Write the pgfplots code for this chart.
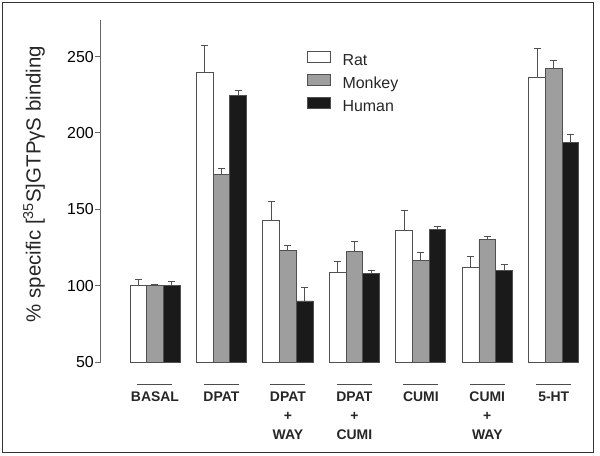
\documentclass[border=0pt]{standalone}
\usepackage{pgfplots}
\pgfplotsset{compat=1.18}
\usepackage{pgfplotstable}
\usepackage{fontspec}
\setmainfont{Liberation Sans}
\definecolor{monk}{HTML}{9E9E9E}
\definecolor{hum}{HTML}{1A1A1A}
\definecolor{edge}{HTML}{505050}
\pgfplotstableread{
x rat rerr monkey merr human herr
0 100 4 100 1 100 2.5
1 239.5 18 173 3.5 224.5 3.5
2 143 12 123 3.5 90 9
3 108.5 7.5 122.5 6.5 108 2
4 136 13 116.5 5.5 137 2
5 112 7 130.5 2 110 4
6 236.5 19 242.5 5 194 5
}\datatable
\begin{document}
\begin{tikzpicture}
\path (-101bp,-94bp) rectangle (499bp,362bp);
\draw[color=black!80, line width=1bp] (-98bp,-90bp) rectangle (492bp,359bp);
\begin{axis}[
 scale only axis, width=486bp, height=342bp,
 xmin=-0.812, xmax=6.5, ymin=50, ymax=274,
 axis y line*=left, axis x line*=bottom,
 x axis line style={draw=none},
 y axis line style={-, draw=black!60, line width=1bp},
 xtick style={draw=none},
 ytick={50,100,150,200,250},
 ytick style={draw=black!60, line width=1bp},
 tick align=outside, major tick length=6bp,
 /pgf/number format/assume math mode=true,
 yticklabel style={font=\fontsize{16}{19}\selectfont, inner sep=1bp},
 xtick={0,1,2,3,4,5,6},
 xticklabels={
  {\textcolor{black!70}{\rule{35bp}{0.8bp}}\\[-2bp]BASAL},
  {\textcolor{black!70}{\rule{35bp}{0.8bp}}\\[-2bp]DPAT},
  {\textcolor{black!70}{\rule{35bp}{0.8bp}}\\[-2bp]DPAT\\+\\WAY},
  {\textcolor{black!70}{\rule{35bp}{0.8bp}}\\[-2bp]DPAT\\+\\CUMI},
  {\textcolor{black!70}{\rule{35bp}{0.8bp}}\\[-2bp]CUMI},
  {\textcolor{black!70}{\rule{35bp}{0.8bp}}\\[-2bp]CUMI\\+\\WAY},
  {\textcolor{black!70}{\rule{35bp}{0.8bp}}\\[-2bp]5-HT}},
 xticklabel style={font=\fontsize{14}{19}\selectfont\bfseries, align=center, anchor=north, inner sep=0pt, yshift=-16bp, text=black!85},
 ylabel={\% specific [\textsuperscript{35}S]GTPγS binding},
 ylabel style={at={(axis description cs:-0.138,0.52)}, anchor=center, font=\fontsize{20.5}{24}\selectfont, text=black!85},
 ybar=0pt, bar width=16.7bp,
 every axis plot/.append style={draw=edge, line width=0.8bp},
 error bars/y dir=plus, error bars/y explicit,
 error bars/error bar style={draw=edge, line width=1bp},
 error bars/error mark options={rotate=90, mark size=3.5bp, line width=1bp, draw=edge},
 legend style={draw=none, fill=none, at={(axis cs:2.28,254)}, anchor=north west,
   inner sep=0pt, row sep=5bp, font=\fontsize{16}{19}\selectfont,
   nodes={inner sep=0pt, text height=12bp, text depth=3bp, text=black!85}},
 /tikz/every odd column/.append style={column sep=12bp},
 legend cell align=left,
 legend image code/.code={\draw[#1, draw=edge, line width=0.8bp] (0bp,-1.5bp) rectangle (23bp,10bp);},
]
\addplot[fill=white] table[x=x, y=rat, y error=rerr] {\datatable};
\addplot[fill=monk] table[x=x, y=monkey, y error=merr] {\datatable};
\addplot[fill=hum] table[x=x, y=human, y error=herr] {\datatable};
\legend{Rat, Monkey, Human}
\end{axis}
\end{tikzpicture}
\end{document}
